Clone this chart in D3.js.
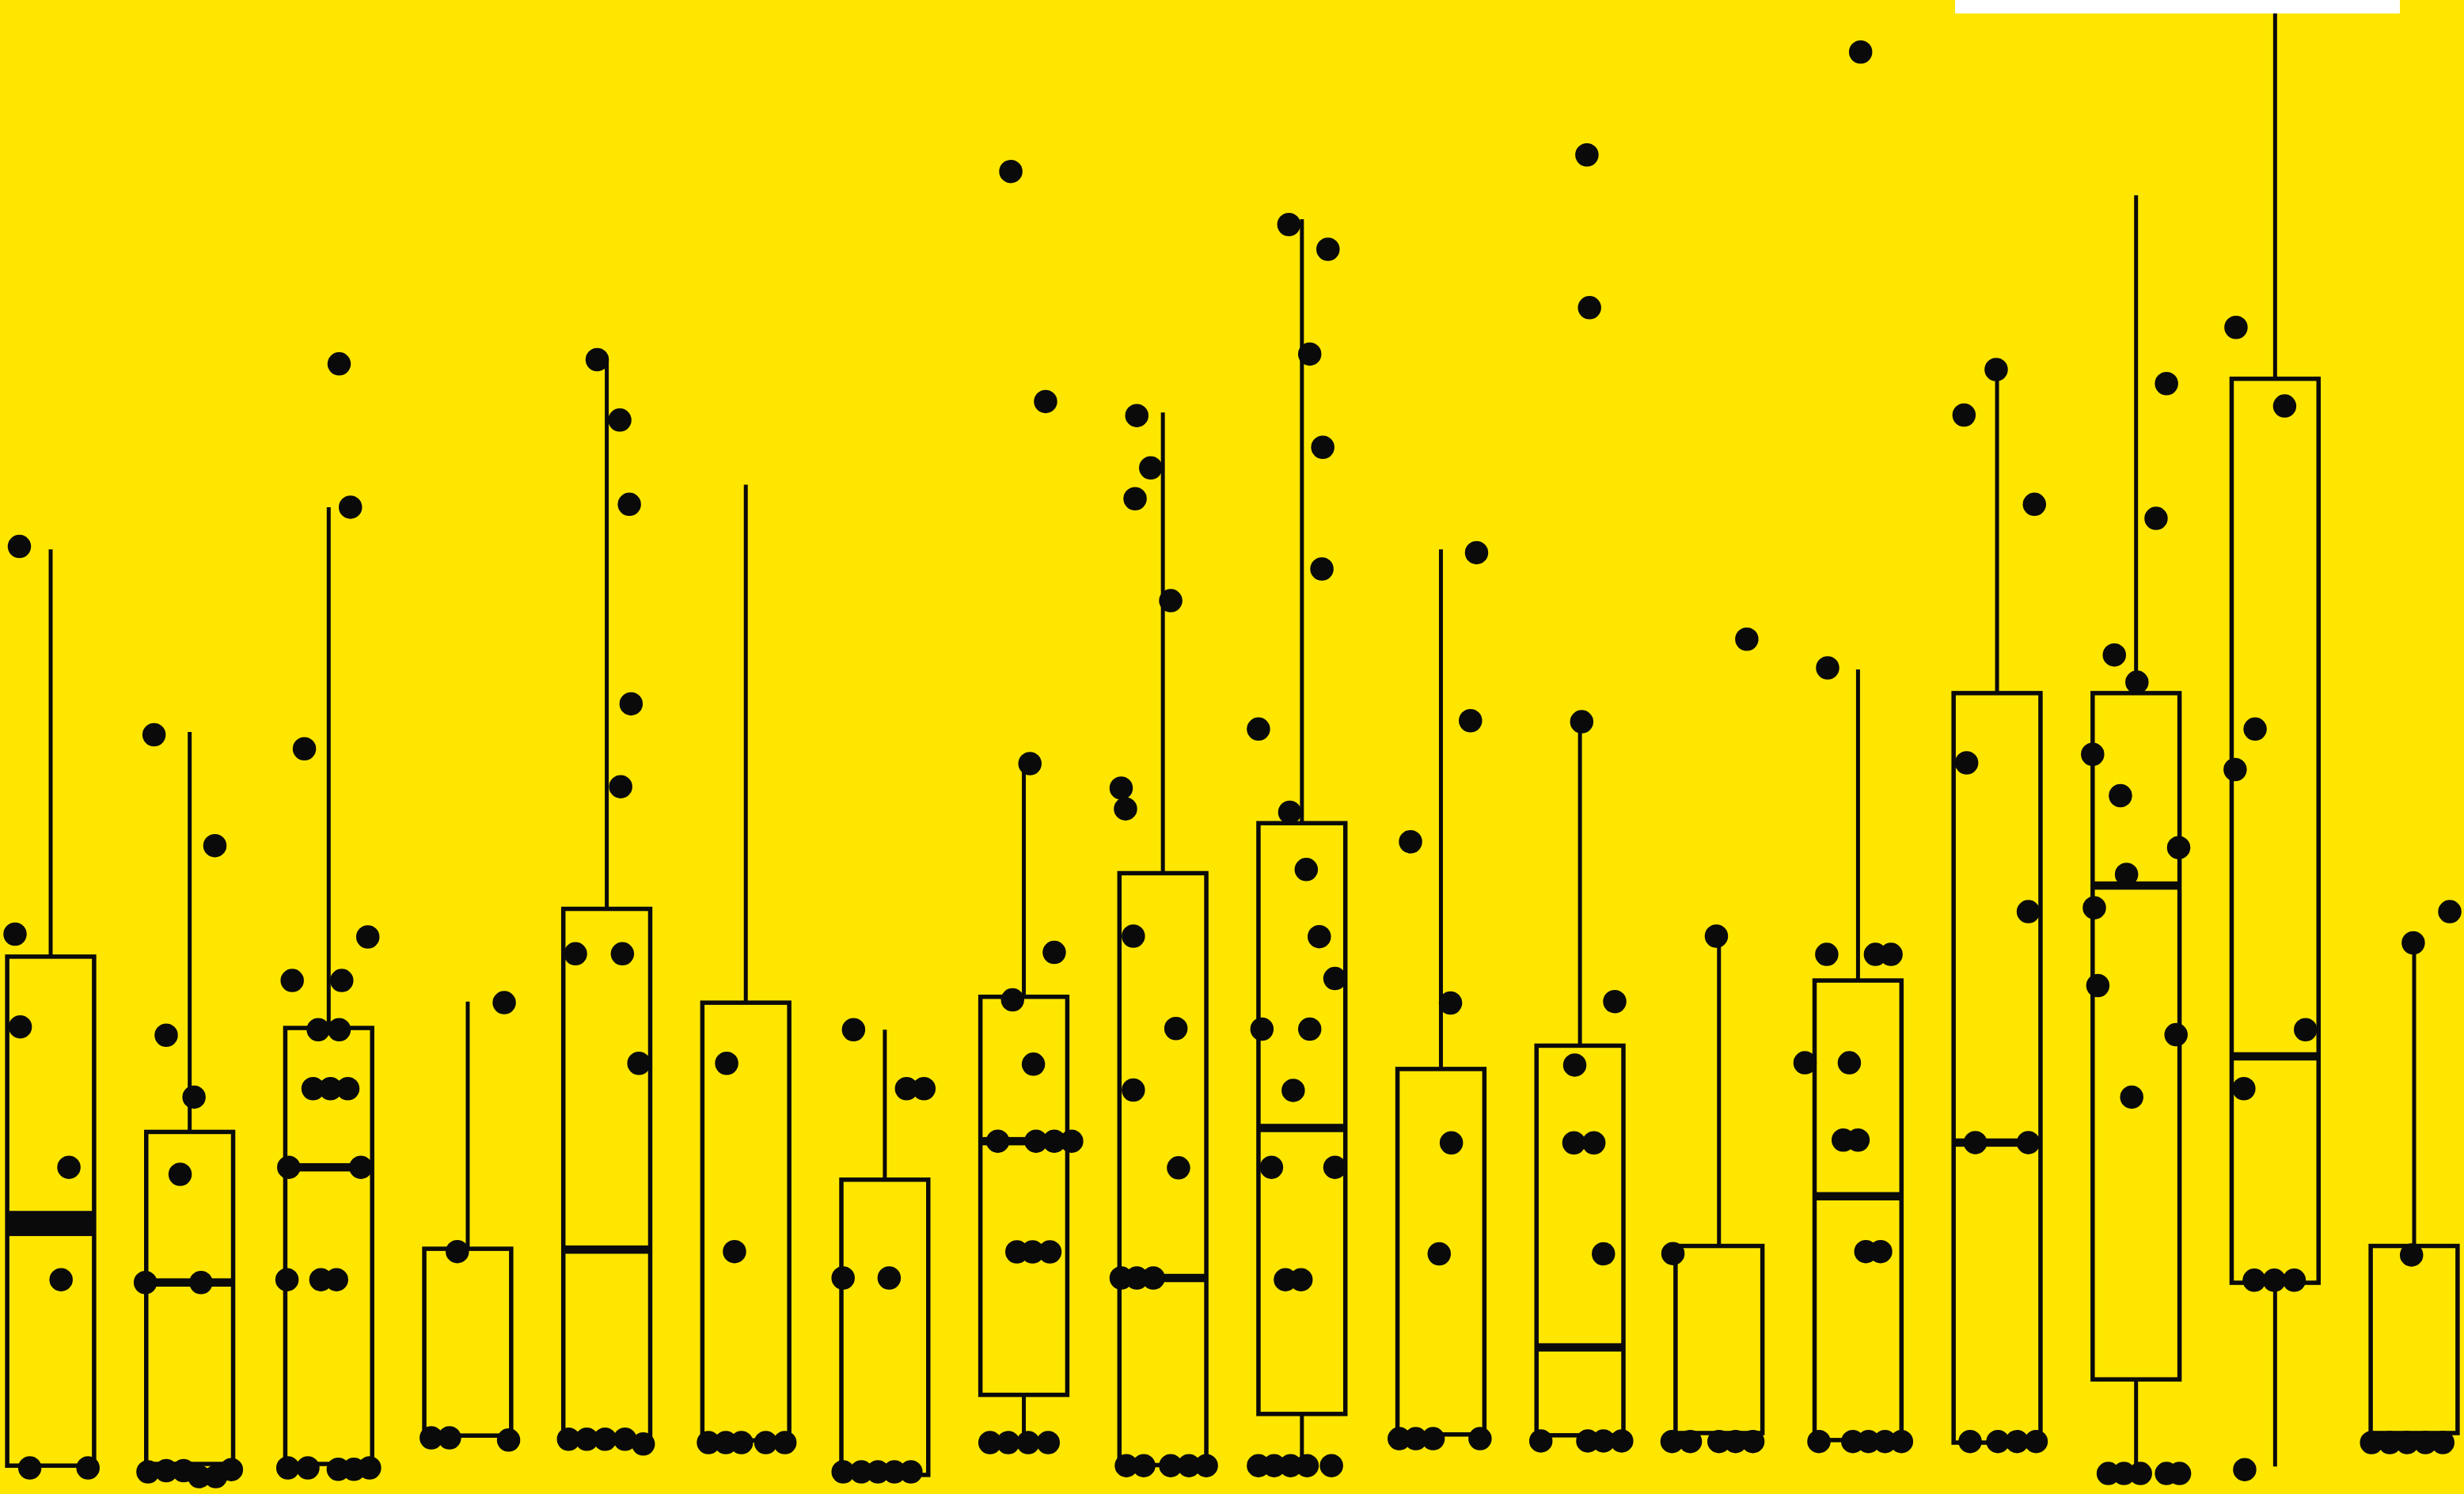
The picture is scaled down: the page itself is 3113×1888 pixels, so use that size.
<!DOCTYPE html>
<html>
<head>
<meta charset="utf-8">
<script src="https://cdn.jsdelivr.net/npm/d3@7/dist/d3.min.js"></script>
<style>
  html, body { margin: 0; padding: 0; background: #FFE600; overflow: hidden; }
  svg { display: block; }
</style>
</head>
<body>
<script>
// Eighteen groups, each summarised as a box plot with its raw observations on top.
const categories = ["S01","S02","S03","S04","S05","S06","S07","S08","S09",
                    "S10","S11","S12","S13","S14","S15","S16","S17","S18"];

// Box statistics per group
const q1        = [0.08, 0.14, 0.14, 1.15, 1.07, 0.98, -0.25, 2.6, 0.1, 1.92, 1.19, 1.16, 1.24, 0.99, 0.9, 3.15, 6.59, 1.24];
const q3        = [18.2, 11.96, 15.66, 7.8, 19.9, 16.56, 10.26, 16.77, 21.17, 22.95, 14.2, 15.03, 7.9, 17.35, 27.58, 27.58, 38.77, 7.9];
const medianLow = [8.4, 6.6, 10.7, 1.15, 7.77, 0.98, -0.25, 11.63, 6.76, 12.1, 1.19, 4.29, 1.24, 9.67, 11.58, 20.73, 14.65, 1.24];
const medianHigh= [9.0, 6.6, 10.7, 1.15, 7.77, 0.98, -0.25, 11.63, 6.76, 12.1, 1.19, 4.29, 1.24, 9.67, 11.58, 20.73, 14.65, 1.24];
const whiskerLow  = [0.08, 0.14, 0.14, 1.15, 1.07, 0.98, -0.25, 0.9, 0.1, 0.08, 1.19, 1.16, 1.24, 0.99, 0.9, -0.2, 0.05, 1.24];
const whiskerHigh = [32.7, 26.2, 34.2, 16.6, 39.5, 35.0, 15.6, 25.07, 37.57, 44.45, 32.7, 26.3, 18.93, 28.42, 39.1, 45.3, 55, 18.7];

// Observations per group: [value, horizontal jitter as a fraction of the box width]
const observations = [
  [[32.8,-0.36],[19.0,-0.41],[15.7,-0.35],[10.7,0.21],[6.7,0.12],[0,-0.24],[0,0.43]],
  [[26.1,-0.41],[22.15,0.29],[15.4,-0.27],[13.2,0.05],[10.45,-0.11],[6.6,-0.51],[6.6,0.13],
   [-0.14,-0.48],[-0.1,-0.27],[-0.1,-0.07],[-0.31,0.11],[-0.31,0.3],[-0.06,0.48]],
  [[39.3,0.12],[34.2,0.25],[25.6,-0.28],[18.9,0.45],[17.35,-0.42],[17.35,0.15],[15.6,-0.12],[15.6,0.12],
   [13.5,-0.18],[13.5,0.02],[13.5,0.22],[10.7,-0.46],[10.7,0.37],[6.7,-0.48],[6.7,-0.09],[6.7,0.09],
   [0,-0.47],[0,-0.24],[-0.05,0.11],[-0.05,0.29],[0,0.47]],
  [[16.56,0.42],[7.7,-0.12],[1.07,-0.42],[1.07,-0.21],[0.99,0.47]],
  [[39.45,-0.11],[37.3,0.15],[34.3,0.26],[27.2,0.28],[24.25,0.16],[18.3,-0.36],[18.3,0.18],[14.4,0.37],
   [1.02,-0.44],[1.02,-0.23],[1.02,-0.02],[1.02,0.21],[0.85,0.42]],
  [[14.4,-0.22],[7.7,-0.13],[0.9,-0.43],[0.9,-0.23],[0.9,-0.05],[0.9,0.23],[0.9,0.45]],
  [[15.6,-0.36],[13.5,0.25],[13.5,0.45],[6.76,-0.48],[6.76,0.05],
   [-0.14,-0.48],[-0.14,-0.27],[-0.14,-0.08],[-0.14,0.11],[-0.14,0.3]],
  [[46.15,-0.15],[37.96,0.25],[25.07,0.07],[18.35,0.35],[16.66,-0.13],[14.37,0.11],
   [11.63,-0.3],[11.63,0.14],[11.63,0.35],[11.63,0.55],[7.69,-0.08],[7.69,0.1],[7.69,0.3],
   [0.9,-0.39],[0.9,-0.18],[0.9,0.05],[0.9,0.28]],
  [[37.46,-0.3],[35.6,-0.14],[34.5,-0.32],[30.87,0.09],[24.2,-0.48],[23.46,-0.43],[18.93,-0.34],
   [15.64,0.15],[13.45,-0.34],[10.68,0.18],[6.76,-0.48],[6.76,-0.3],[6.76,-0.11],
   [0.08,-0.42],[0.08,-0.22],[0.08,0.09],[0.08,0.3],[0.08,0.5]],
  [[44.26,-0.15],[43.38,0.3],[39.65,0.09],[36.33,0.24],[32.0,0.23],[26.3,-0.5],[23.34,-0.14],
   [21.3,0.05],[18.91,0.2],[17.42,0.38],[15.62,-0.46],[15.62,0.09],[13.44,-0.1],[10.7,-0.35],
   [10.7,0.38],[6.7,-0.19],[6.7,-0.01],[0.08,-0.5],[0.08,-0.32],[0.08,-0.13],[0.08,0.06],[0.08,0.34]],
  [[32.58,0.41],[26.6,0.34],[22.29,-0.35],[16.55,0.11],[11.57,0.12],[7.62,-0.02],
   [1.04,-0.48],[1.04,-0.29],[1.04,-0.09],[1.04,0.45]],
  [[46.74,0.08],[41.3,0.11],[26.56,0.02],[16.6,0.4],[14.34,-0.06],[11.57,-0.07],[11.57,0.16],
   [7.62,0.27],[0.96,-0.45],[0.96,0.09],[0.96,0.27],[0.96,0.48]],
  [[29.5,0.32],[18.93,-0.03],[7.63,-0.53],[0.94,-0.54],[0.94,-0.33],[0.94,0],[0.94,0.19],[0.94,0.39]],
  [[50.4,0.03],[28.48,-0.35],[18.28,-0.36],[18.28,0.2],[18.28,0.38],[14.42,-0.61],[14.42,-0.1],
   [11.67,-0.17],[11.67,0],[7.7,0.09],[7.7,0.26],[0.94,-0.45],[0.94,-0.06],[0.94,0.12],[0.94,0.31],[0.94,0.5]],
  [[39.1,-0.01],[37.48,-0.38],[34.3,0.43],[25.1,-0.35],[19.8,0.36],[11.58,-0.25],[11.58,0.36],
   [0.94,-0.31],[0.94,0.01],[0.94,0.23],[0.94,0.45]],
  [[38.6,0.35],[33.8,0.23],[28.94,-0.25],[27.97,0.01],[25.4,-0.5],[23.93,-0.18],[22.08,0.49],
   [21.13,-0.11],[19.94,-0.48],[17.17,-0.44],[15.42,0.46],[13.2,-0.05],
   [-0.2,-0.32],[-0.2,-0.14],[-0.2,0.05],[-0.2,0.35],[-0.2,0.5]],
  [[40.6,-0.45],[37.8,0.11],[26.3,-0.23],[24.86,-0.46],[15.6,0.35],[13.5,-0.36],
   [6.68,-0.24],[6.68,-0.01],[6.68,0.22],[-0.06,-0.35]],
  [[19.8,0.41],[18.69,-0.01],[7.58,-0.03],[0.9,-0.49],[0.9,-0.28],[0.9,-0.08],[0.9,0.13],[0.9,0.33]]
];

const W = 3113, H = 1888;
const BG = "#FFE600", INK = "#0A0A0A";

const svg = d3.select("body").append("svg")
  .attr("width", W).attr("height", H)
  .attr("viewBox", `0 0 ${W} ${H}`);

svg.append("rect").attr("width", W).attr("height", H).attr("fill", BG);

const x = d3.scalePoint().domain(categories).range([64, 3050]);
const boxW = x.step() * 0.625;
const y = d3.scaleLinear().domain([0, 50]).range([1855, 80]);

const groups = categories.map((c, i) => ({
  key: c, q1: q1[i], q3: q3[i], mLo: medianLow[i], mHi: medianHigh[i],
  wLo: whiskerLow[i], wHi: whiskerHigh[i], obs: observations[i]
}));

const g = svg.append("g");

// whiskers (no caps)
g.selectAll("line.w-hi").data(groups).join("line")
  .attr("class", "w-hi")
  .attr("x1", d => x(d.key)).attr("x2", d => x(d.key))
  .attr("y1", d => y(d.q3)).attr("y2", d => y(d.wHi))
  .attr("stroke", INK).attr("stroke-width", 5);

g.selectAll("line.w-lo").data(groups.filter(d => d.wLo < d.q1)).join("line")
  .attr("class", "w-lo")
  .attr("x1", d => x(d.key)).attr("x2", d => x(d.key))
  .attr("y1", d => y(d.q1)).attr("y2", d => y(d.wLo))
  .attr("stroke", INK).attr("stroke-width", 5);

// boxes
g.selectAll("rect.box").data(groups).join("rect")
  .attr("class", "box")
  .attr("x", d => x(d.key) - boxW / 2)
  .attr("width", boxW)
  .attr("y", d => y(d.q3))
  .attr("height", d => y(d.q1) - y(d.q3))
  .attr("fill", "none")
  .attr("stroke", INK).attr("stroke-width", 5.5);

// medians: a heavy bar inside the box (a band when the two central
// observations differ); a median sitting on the lower hinge is left to the box edge
const medT = 10.5;
g.selectAll("rect.median").data(groups.filter(d => d.mLo > d.q1 && d.mHi < d.q3)).join("rect")
  .attr("class", "median")
  .attr("x", d => x(d.key) - boxW / 2)
  .attr("width", boxW)
  .attr("y", d => y(d.mHi) - medT / 2)
  .attr("height", d => y(d.mLo) - y(d.mHi) + medT)
  .attr("fill", INK);

// observations
const pts = groups.flatMap(d => d.obs.map(([v, j]) => ({ key: d.key, v, j })));
g.selectAll("circle.obs").data(pts).join("circle")
  .attr("class", "obs")
  .attr("cx", d => x(d.key) + d.j * boxW)
  .attr("cy", d => y(d.v))
  .attr("r", 14.75)
  .attr("fill", INK);

// legend panel, partly outside the top edge
svg.append("rect")
  .attr("x", 2470).attr("y", -40)
  .attr("width", 562).attr("height", 57)
  .attr("fill", "#FFFFFF");
</script>
</body>
</html>
